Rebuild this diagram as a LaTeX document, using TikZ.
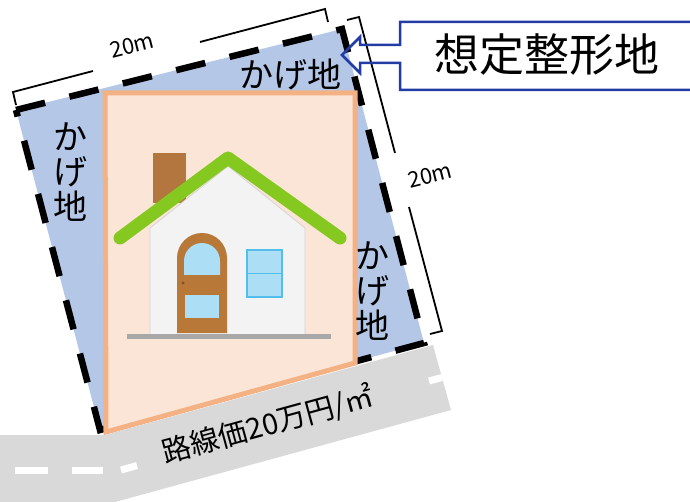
\documentclass[tikz,border=0pt]{standalone}
\usepackage{fontspec}
\setmainfont{Noto Sans CJK JP}
\definecolor{plotblue}{RGB}{180,199,231}
\definecolor{lotfill}{RGB}{251,229,214}
\definecolor{lotedge}{RGB}{244,177,131}
\definecolor{roadgrey}{RGB}{217,217,217}
\definecolor{calloutblue}{RGB}{35,60,165}
\definecolor{chimney}{RGB}{178,118,62}
\definecolor{wallfill}{RGB}{243,243,243}
\definecolor{wallline}{RGB}{212,212,212}
\definecolor{roofgreen}{RGB}{132,200,32}
\definecolor{doorbrown}{RGB}{184,120,56}
\definecolor{glass}{RGB}{172,222,246}
\definecolor{winframe}{RGB}{84,190,235}
\definecolor{groundgrey}{RGB}{168,168,168}
\begin{document}
\begin{tikzpicture}[x=1pt,y=-1pt,
  plotlabel/.style={font=\fontsize{34}{35}\selectfont, inner sep=0pt, align=center},
  dimlabel/.style={font=\fontsize{22}{24}\selectfont, inner sep=0pt, rotate=14},
  dimline/.style={line width=1.8pt, black},
  roadmark/.style={white, line width=7pt}]
\useasboundingbox (0,0) rectangle (690,502);

% assumed rectangular plot (shaded corners = kageti)
\coordinate (q1) at (16,110);
\coordinate (q2) at (342,29);
\coordinate (q3) at (424,343);
\coordinate (q4) at (100,430);
\fill[plotblue] (q1) -- (q2) -- (q3) -- (q4) -- cycle;
\draw[line width=6.5pt, dash pattern=on 30pt off 25pt] (q1) -- (q2) -- (q3) -- (q4) -- cycle;

% actual lot
\coordinate (l1) at (105,93);
\coordinate (l2) at (355,93);
\coordinate (l3) at (355,363);
\coordinate (l4) at (106,432);
\draw[line width=5pt, draw=lotedge, fill=lotfill] (l1) -- (l2) -- (l3) -- (l4) -- cycle;

% house
\fill[chimney] (153,153) rectangle (186,203);
\filldraw[fill=wallfill, draw=wallline, line width=0.8pt]
  (150,335) -- (150,228) -- (228,166) -- (305,228) -- (305,335) -- cycle;
\draw[roofgreen, line width=13pt, line cap=round, line join=round]
  (120,238) -- (228,158) -- (340,238);
\fill[doorbrown] (177,333) -- (177,258) arc[start angle=180, end angle=0, radius=25pt] -- (227,333) -- cycle;
\fill[glass] (184,275) -- (184,261) arc[start angle=180, end angle=0, radius=18pt] -- (220,275) -- cycle;
\fill[glass] (185,295) rectangle (219,318);
\fill[doorbrown!70!black] (183,283) circle[radius=1.6pt];
\filldraw[fill=glass, draw=winframe, line width=1.5pt] (247,250) rectangle (282,297);
\draw[winframe, line width=1.5pt] (247,273.5) -- (282,273.5);
\fill[groundgrey] (127,334) rectangle (331,339);

% road
\fill[roadgrey] (0,435) -- (105,435) -- (433,345) -- (451,410) -- (115,502) -- (0,502) -- cycle;
\coordinate (m1) at (15,470.5);  \coordinate (m2) at (48,470.5);
\coordinate (m3) at (72,470.5);  \coordinate (m4) at (103,470.5);
\coordinate (m5) at (121,470);   \coordinate (m6) at (137,465.6);
\coordinate (m7) at (429,381);   \coordinate (m8) at (442,377.5);
\draw[roadmark] (m1) -- (m2);
\draw[roadmark] (m3) -- (m4);
\draw[roadmark] (m5) -- (m6);
\draw[roadmark] (m7) -- (m8);
\node[font=\fontsize{29}{30}\selectfont, inner sep=0pt, rotate=15.3] (price) at (268,425) {路線価20万円/㎡};

% labels for the shaded corners
\node[plotlabel] (kageTop) at (290,74) {かげ地};
\node[plotlabel] (kageLeft) at (70,172) {か\\げ\\地};
\node[plotlabel] (kageRight) at (372,291) {か\\げ\\地};

% dimension brackets
\coordinate (t1) at (16,105); \coordinate (t2) at (13,92); \coordinate (t3) at (93,71);
\coordinate (t4) at (200,42); \coordinate (t5) at (325,9); \coordinate (t6) at (328,22);
\draw[dimline] (t1) -- (t2) -- (t3);
\draw[dimline] (t4) -- (t5) -- (t6);
\node[dimlabel] (dimTop) at (132,45) {20m};
\coordinate (r1) at (347,20); \coordinate (r2) at (359,17); \coordinate (r3) at (395,153);
\coordinate (r4) at (409,207); \coordinate (r5) at (442,331); \coordinate (r6) at (430,334);
\draw[dimline] (r1) -- (r2) -- (r3);
\draw[dimline] (r4) -- (r5) -- (r6);
\node[dimlabel] (dimRight) at (430,175) {20m};

% callout
\coordinate (tip) at (342,55);
\draw[calloutblue, line width=2.5pt, line join=miter]
  (694,22) -- (400,22) -- (400,45) -- (360,45) -- (360,37) -- (tip)
  -- (360,73) -- (360,63) -- (400,63) -- (400,90) -- (694,90);
\node[font=\fontsize{45}{46}\selectfont, inner sep=0pt] (title) at (547,55) {想定整形地};
\end{tikzpicture}
\end{document}
